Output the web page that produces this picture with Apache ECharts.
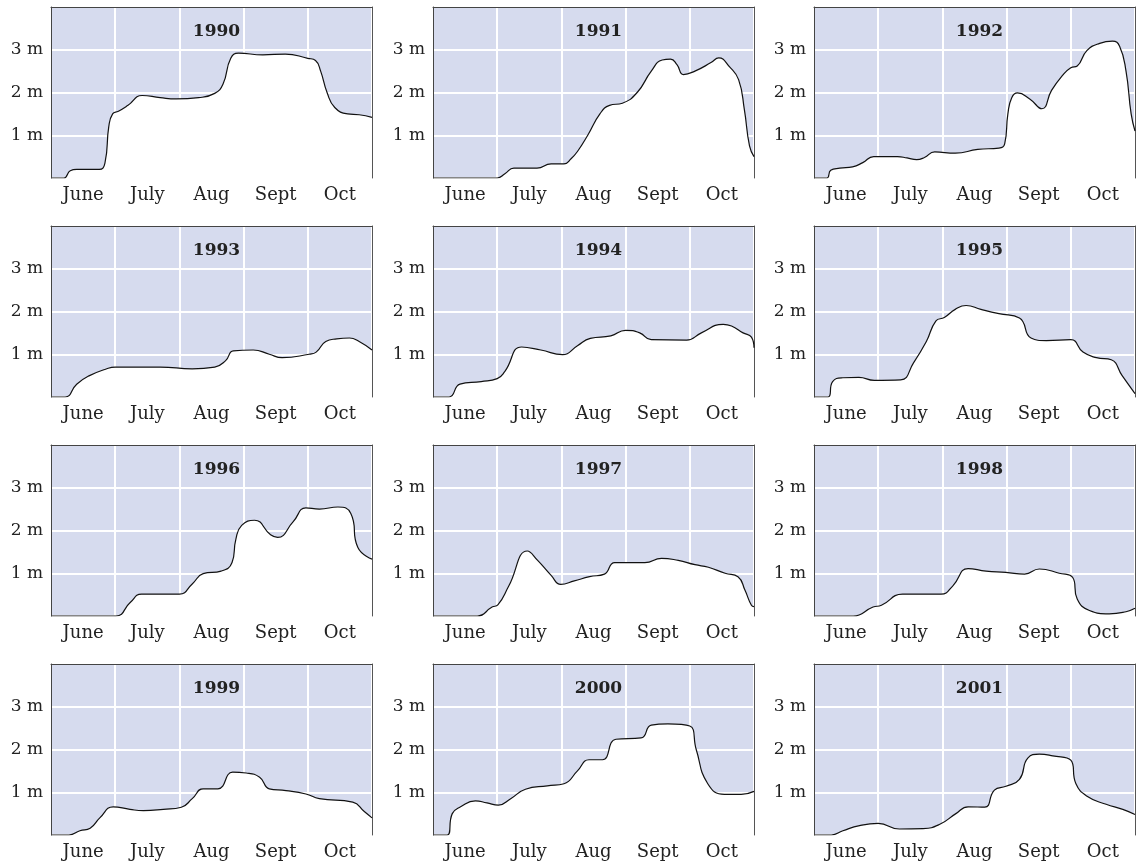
<!DOCTYPE html>
<html>
<head>
<meta charset="utf-8">
<script src="https://cdn.jsdelivr.net/npm/echarts@6/dist/echarts.min.js"></script>
<style>
html,body{margin:0;padding:0;background:#fff;}
#chart{width:1143px;height:866px;}
</style>
</head>
<body>
<div id="chart"></div>
<script>
const years = ['1990','1991','1992','1993','1994','1995','1996','1997','1998','1999','2000','2001'];
const months = ['June','July','Aug','Sept','Oct'];
const yTickLabels = ['', '1 m', '2 m', '3 m', ''];

// [month offset from 1 June, metres]
const y1990 = [[0,0],[0.2,0],[0.3,0.17],[0.4,0.2],[0.75,0.2],[0.84,0.35],[0.9,1.2],[0.96,1.5],[1.05,1.56],[1.2,1.7],[1.42,1.93],[1.7,1.88],[1.95,1.85],[2.3,1.88],[2.55,1.98],[2.68,2.2],[2.8,2.8],[2.92,2.92],[3.3,2.88],[3.65,2.9],[4.0,2.8],[4.12,2.75],[4.2,2.5],[4.3,2.0],[4.42,1.65],[4.62,1.5],[4.8,1.48],[5,1.42]];
const y1991 = [[0,0],[1.0,0],[1.12,0.1],[1.26,0.23],[1.62,0.23],[1.84,0.33],[2.04,0.33],[2.15,0.45],[2.25,0.62],[2.41,1.0],[2.6,1.5],[2.75,1.7],[2.95,1.75],[3.18,2.0],[3.4,2.5],[3.57,2.76],[3.7,2.78],[3.8,2.65],[3.9,2.42],[4.08,2.5],[4.33,2.7],[4.45,2.81],[4.62,2.6],[4.76,2.3],[4.85,1.6],[4.93,0.75],[5,0.5]];
const y1992 = [[0,0],[0.2,0],[0.26,0.18],[0.4,0.23],[0.6,0.26],[0.76,0.36],[0.93,0.5],[1.3,0.5],[1.45,0.47],[1.6,0.43],[1.72,0.48],[1.88,0.61],[2.2,0.58],[2.55,0.67],[2.88,0.7],[2.97,0.8],[3.02,1.5],[3.08,1.88],[3.17,1.99],[3.36,1.85],[3.55,1.62],[3.7,2.05],[3.87,2.4],[4.0,2.58],[4.1,2.62],[4.25,2.98],[4.45,3.15],[4.65,3.2],[4.76,3.08],[4.86,2.5],[4.94,1.5],[5,1.1]];
const y1993 = [[0,0],[0.22,0],[0.4,0.3],[0.6,0.5],[0.85,0.65],[1.0,0.7],[1.7,0.7],[2.2,0.66],[2.55,0.7],[2.72,0.85],[2.84,1.08],[3.15,1.1],[3.4,1.0],[3.6,0.92],[4.02,1.0],[4.13,1.05],[4.28,1.3],[4.45,1.36],[4.65,1.38],[4.8,1.3],[5,1.1]];
const y1994 = [[0,0],[0.25,0],[0.42,0.3],[0.75,0.36],[1.0,0.43],[1.12,0.6],[1.38,1.17],[1.68,1.1],[2.02,0.99],[2.25,1.2],[2.45,1.37],[2.77,1.43],[3.0,1.56],[3.22,1.5],[3.4,1.34],[3.95,1.33],[4.18,1.5],[4.52,1.7],[4.65,1.66],[4.83,1.5],[4.96,1.4],[5,1.15]];
const y1995 = [[0,0],[0.22,0],[0.29,0.36],[0.45,0.45],[0.7,0.46],[0.94,0.39],[1.35,0.4],[1.55,0.8],[1.75,1.3],[1.9,1.78],[2.03,1.86],[2.2,2.05],[2.37,2.14],[2.6,2.05],[2.88,1.95],[3.2,1.85],[3.38,1.38],[3.62,1.32],[4.0,1.34],[4.19,1.05],[4.4,0.92],[4.63,0.87],[4.8,0.5],[5,0.08]];
const y1996 = [[0,0],[1.01,0],[1.23,0.31],[1.41,0.51],[2.0,0.51],[2.2,0.75],[2.37,0.99],[2.65,1.05],[2.82,1.25],[2.88,1.8],[2.97,2.12],[3.17,2.24],[3.42,1.9],[3.53,1.84],[3.77,2.2],[3.97,2.53],[4.18,2.5],[4.47,2.55],[4.67,2.4],[4.78,1.6],[5,1.33]];
const y1997 = [[0,0],[0.69,0],[0.92,0.21],[1.01,0.26],[1.18,0.7],[1.47,1.52],[1.63,1.3],[1.84,0.95],[1.99,0.74],[2.2,0.82],[2.44,0.92],[2.67,0.98],[2.83,1.25],[3.3,1.25],[3.56,1.35],[3.82,1.3],[4.08,1.2],[4.29,1.14],[4.55,1.0],[4.75,0.92],[4.86,0.6],[4.96,0.25],[5,0.22]];
const y1998 = [[0,0],[0.61,0],[0.92,0.21],[1.05,0.25],[1.38,0.51],[1.98,0.51],[2.16,0.7],[2.4,1.11],[2.68,1.05],[2.99,1.02],[3.28,0.98],[3.51,1.1],[3.82,1.0],[4.03,0.9],[4.1,0.4],[4.29,0.13],[4.6,0.05],[4.86,0.1],[5,0.18]];
const y1999 = [[0,0],[0.28,0],[0.45,0.1],[0.61,0.16],[0.76,0.4],[0.97,0.66],[1.23,0.6],[1.44,0.57],[1.75,0.6],[2.03,0.65],[2.2,0.85],[2.37,1.08],[2.6,1.08],[2.83,1.47],[3.04,1.45],[3.25,1.35],[3.4,1.08],[3.66,1.04],[3.97,0.96],[4.18,0.85],[4.7,0.77],[4.88,0.55],[5,0.4]];
const y2000 = [[0,0],[0.22,0],[0.3,0.5],[0.43,0.66],[0.66,0.8],[0.84,0.75],[1.02,0.7],[1.21,0.85],[1.44,1.07],[1.78,1.15],[2.04,1.2],[2.25,1.5],[2.43,1.76],[2.64,1.76],[2.85,2.24],[3.24,2.27],[3.4,2.57],[3.66,2.6],[4.0,2.55],[4.1,2.0],[4.28,1.2],[4.54,0.95],[4.8,0.95],[5,1.02]];
const y2001 = [[0,0],[0.27,0],[0.45,0.1],[0.71,0.22],[1.0,0.27],[1.33,0.14],[1.7,0.15],[1.96,0.25],[2.21,0.5],[2.4,0.66],[2.66,0.65],[2.81,1.05],[2.99,1.14],[3.2,1.3],[3.33,1.8],[3.51,1.89],[3.72,1.85],[4.0,1.75],[4.08,1.2],[4.26,0.9],[4.55,0.72],[4.81,0.6],[5,0.48]];

const seriesData = [y1990,y1991,y1992,y1993,y1994,y1995,y1996,y1997,y1998,y1999,y2000,y2001];

const colLeft = [51, 433, 814];
const rowTop = [7, 226, 445, 664];
const W = 321, H = 171;
const FONT = 'DejaVu Serif';
const BG = '#d6dbee';
const INK = '#222';

const grid = [], xAxis = [], yAxis = [], series = [], title = [];
years.forEach((yr, i) => {
  const r = Math.floor(i / 3), c = i % 3;
  grid.push({left: colLeft[c], top: rowTop[r], width: W, height: H, show: true,
    backgroundColor: BG, borderWidth: 0});
  // value axis for data (top border line, vertical grid lines)
  xAxis.push({type: 'value', gridIndex: i, min: 0, max: 5, interval: 1, position: 'top',
    axisLine: {show: true, onZero: false, lineStyle: {color: '#444', width: 1}},
    axisTick: {show: false}, axisLabel: {show: false},
    splitLine: {show: true, lineStyle: {color: '#fff', width: 2}}});
  // category axis for month labels
  xAxis.push({type: 'category', gridIndex: i, data: months, boundaryGap: true, position: 'bottom',
    axisLine: {show: false}, axisTick: {show: false}, splitLine: {show: false},
    axisLabel: {show: true, color: INK, fontFamily: FONT, fontSize: 18, margin: 8}});
  // left axis: labels + left border drawn above the fill
  yAxis.push({type: 'value', gridIndex: i, min: 0, max: 4, interval: 1, position: 'left', z: 5,
    axisLine: {show: true, onZero: false, lineStyle: {color: '#444', width: 1}},
    axisTick: {show: false},
    axisLabel: {show: true, color: INK, fontFamily: FONT, fontSize: 17, margin: 8,
      formatter: v => yTickLabels[v] || ''},
    splitLine: {show: false}});
  // right axis: right border + horizontal grid lines (under the fill)
  yAxis.push({type: 'value', gridIndex: i, min: 0, max: 4, interval: 1, position: 'right',
    axisLine: {show: true, onZero: false, lineStyle: {color: '#555', width: 1}},
    axisTick: {show: false}, axisLabel: {show: false},
    splitLine: {show: true, lineStyle: {color: '#fff', width: 2}}});
  series.push({type: 'line', xAxisIndex: 2 * i, yAxisIndex: 2 * i, data: seriesData[i],
    smooth: 0.5, symbol: 'none',
    lineStyle: {color: '#111', width: 1.2},
    areaStyle: {color: '#fff', opacity: 1}});
  title.push({text: yr, left: colLeft[c] + W / 2, top: rowTop[r] + 11, textAlign: 'center',
    textStyle: {fontFamily: FONT, fontWeight: 'bold', fontSize: 17, color: INK}});
});

const chart = echarts.init(document.getElementById('chart'), null, {renderer: 'canvas'});
chart.setOption({animation: false, backgroundColor: '#fff', title, grid, xAxis, yAxis, series});
</script>
</body>
</html>
